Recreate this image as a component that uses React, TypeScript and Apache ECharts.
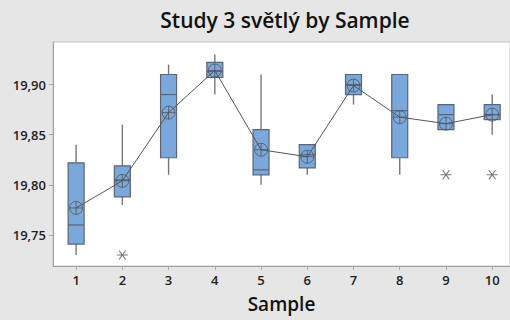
import React, { useEffect, useRef } from "react";
import * as echarts from "echarts";

const samples = [1, 2, 3, 4, 5, 6, 7, 8, 9, 10];
const whiskerLow = [19.73, 19.78, 19.81, 19.89, 19.8, 19.81, 19.88, 19.81, 19.855, 19.85];
const q1 = [19.741, 19.788, 19.827, 19.907, 19.81, 19.817, 19.89, 19.827, 19.855, 19.865];
const median = [19.76, 19.805, 19.89, 19.913, 19.815, 19.83, 19.9, 19.874, 19.87, 19.87];
const q3 = [19.822, 19.819, 19.91, 19.922, 19.855, 19.84, 19.91, 19.91, 19.88, 19.88];
const whiskerHigh = [19.84, 19.86, 19.92, 19.93, 19.91, 19.84, 19.91, 19.91, 19.88, 19.89];
const means = [19.777, 19.804, 19.872, 19.914, 19.835, 19.828, 19.899, 19.8675, 19.861, 19.87];
const outlierSample = [2, 9, 10];
const outlierValue = [19.73, 19.81, 19.81];
const yTicks = [19.75, 19.8, 19.85, 19.9];

const FONT = "'Open Sans', 'Noto Sans', sans-serif";
const MEAN_SYMBOL =
  "path://M0,-6A6,6 0 1,1 0,6A6,6 0 1,1 0,-6ZM-6,0L6,0M0,-6L0,6";
const STAR_SYMBOL = "path://M-5,0L5,0M-3,-4.5L3,4.5M-3,4.5L3,-4.5";

export default function App() {
  const ref = useRef<HTMLDivElement>(null);
  useEffect(() => {
    if (!ref.current) return;
    const chart = echarts.init(ref.current, undefined, { renderer: "svg" });
    const boxData = samples.map((s, i) => [
      s,
      whiskerLow[i],
      q1[i],
      median[i],
      q3[i],
      whiskerHigh[i],
    ]);
    chart.setOption({
      animation: false,
      backgroundColor: "#e6e6e6",
      graphic: [
        {
          type: "text",
          x: 285,
          y: 20,
          style: {
            text: "Study 3 světlý by Sample",
            textAlign: "center",
            textVerticalAlign: "middle",
            font: `600 21px ${FONT}`,
            fill: "#111",
          },
        },
      ],
      grid: {
        left: 53,
        top: 42,
        right: -1,
        bottom: 54,
        show: true,
        backgroundColor: "#ffffff",
        borderColor: "#c6c6c6",
        borderWidth: 1,
      },
      xAxis: {
        type: "value",
        min: 0.5,
        max: 10.385,
        name: "Sample",
        nameLocation: "middle",
        nameGap: 28,
        nameTextStyle: { fontFamily: FONT, fontSize: 19, fontWeight: 600, color: "#111" },
        splitLine: { show: false },
        axisLine: { show: true, lineStyle: { color: "#a0a0a0" } },
        axisTick: { show: true, length: 4, lineStyle: { color: "#a8a8a8" }, customValues: samples },
        axisLabel: {
          customValues: samples,
          fontFamily: FONT,
          fontSize: 13,
          fontWeight: 600,
          color: "#222",
          margin: 7,
        },
      },
      yAxis: {
        type: "value",
        min: 19.7191,
        max: 19.9424,
        splitLine: { show: false },
        axisLine: { show: true, lineStyle: { color: "#a0a0a0" } },
        axisTick: { show: true, length: 4, lineStyle: { color: "#a8a8a8" }, customValues: yTicks },
        axisLabel: {
          customValues: yTicks,
          fontFamily: FONT,
          fontSize: 13,
          fontWeight: 600,
          color: "#222",
          margin: 7,
          formatter: (v: number) => v.toFixed(2).replace(".", ","),
        },
      },
      series: [
        {
          type: "custom",
          data: boxData,
          encode: { x: 0, y: [1, 2, 3, 4, 5] },
          z: 2,
          renderItem: (params: any, api: any) => {
            const x = api.value(0);
            const lo = api.coord([x, api.value(1)]);
            const b1 = api.coord([x, api.value(2)]);
            const md = api.coord([x, api.value(3)]);
            const b3 = api.coord([x, api.value(4)]);
            const hi = api.coord([x, api.value(5)]);
            const w = 16;
            const whisk = { stroke: "#777", lineWidth: 1.4 };
            return {
              type: "group",
              children: [
                { type: "line", shape: { x1: lo[0], y1: lo[1], x2: b1[0], y2: b1[1] }, style: whisk },
                { type: "line", shape: { x1: b3[0], y1: b3[1], x2: hi[0], y2: hi[1] }, style: whisk },
                {
                  type: "rect",
                  shape: { x: b3[0] - w / 2, y: b3[1], width: w, height: Math.max(b1[1] - b3[1], 0.5) },
                  style: { fill: "#7aa7dc", stroke: "#5c6570", lineWidth: 1.2 },
                },
                {
                  type: "line",
                  shape: { x1: md[0] - w / 2, y1: md[1], x2: md[0] + w / 2, y2: md[1] },
                  style: { stroke: "#5c6570", lineWidth: 1.2 },
                },
              ],
            };
          },
        },
        {
          type: "line",
          data: samples.map((s, i) => [s, means[i]]),
          symbol: "none",
          lineStyle: { color: "#555", width: 1 },
          z: 3,
        },
        {
          type: "scatter",
          data: samples.map((s, i) => [s, means[i]]),
          symbol: MEAN_SYMBOL,
          symbolSize: 13,
          itemStyle: { color: "rgba(0,0,0,0)", borderColor: "#555", borderWidth: 1 },
          z: 4,
        },
        {
          type: "scatter",
          data: outlierSample.map((s, i) => [s, outlierValue[i]]),
          symbol: STAR_SYMBOL,
          symbolSize: [11, 9],
          itemStyle: { color: "rgba(0,0,0,0)", borderColor: "#555", borderWidth: 1 },
          z: 4,
        },
      ],
    });
    return () => chart.dispose();
  }, []);
  return <div ref={ref} style={{ width: 510, height: 320, position: "absolute", left: 0, top: 0 }} />;
}
